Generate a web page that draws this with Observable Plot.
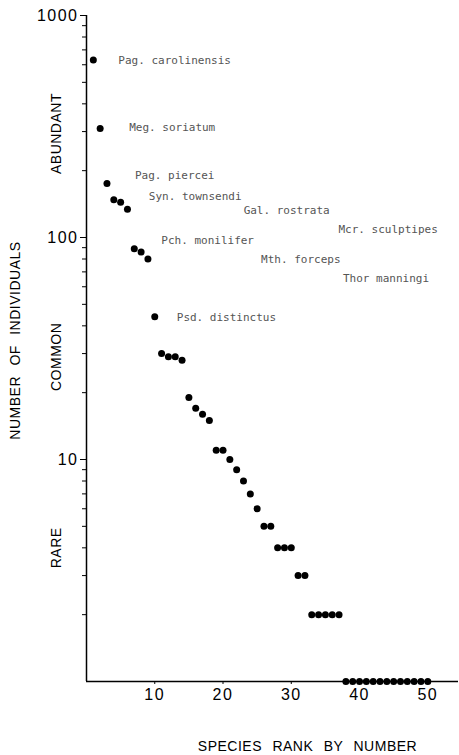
<!DOCTYPE html>
<html><head><meta charset="utf-8">
<script src="https://cdn.jsdelivr.net/npm/d3@7"></script>
<script src="https://cdn.jsdelivr.net/npm/@observablehq/plot@0.6"></script>
<style>
body{margin:0;background:#fff;}
g[aria-label="y-axis tick label"] text, g[aria-label="x-axis tick label"] text {letter-spacing:1.5px}
.cls text {letter-spacing:0.5px; word-spacing:6px}
</style></head><body><div id="chart"></div>
<script>
// Data
const ranks = [1,2,3,4,5,6,7,8,9,10,11,12,13,14,15,16,17,18,19,20,21,22,23,24,25,26,27,28,29,30,31,32,33,34,35,36,37,38,39,40,41,42,43,44,45,46,47,48,49,50];
const counts = [630,310,175,148,144,134,89,86,80,44,30,29,29,28,19,17,16,15,11,11,10,9,8,7,6,5,5,4,4,4,3,3,2,2,2,2,2,1,1,1,1,1,1,1,1,1,1,1,1,1];
const speciesNames = ["Pag. carolinensis","Meg. soriatum","Pag. piercei","Syn. townsendi","Gal. rostrata","Mcr. sculptipes","Pch. monilifer","Mth. forceps","Thor manningi","Psd. distinctus"];
const speciesRanks = [1,2,3,4,5,6,7,8,9,10];
const classNames = ["ABUNDANT","COMMON","RARE"];
const classMid = [294,29,4];
const xTicks = [10,20,30,40,50];
const yMajor = [10,100,1000];
const yMinor = [2,3,4,5,6,7,8,9,20,30,40,50,60,70,80,90,200,300,400,500,600,700,800,900];
const xLabel = "SPECIES RANK BY NUMBER";
const yLabel = "NUMBER OF INDIVIDUALS";

// Layout (label offsets from each species' point, in pixels)
const labelOffsets = [[25,0],[29,-1],[28,-8],[35,-3],[123,8],[211,20],[27,-8],[120,7],[195,19],[22,1]];

const data = ranks.map((r,i) => ({rank: r, count: counts[i]}));

const speciesMarks = speciesNames.map((name, i) => {
  const r = speciesRanks[i];
  return Plot.text([{rank: r, count: counts[r-1], name}], {
    x: "rank", y: "count", text: "name",
    textAnchor: "start", dx: labelOffsets[i][0], dy: labelOffsets[i][1],
    fontFamily: "DejaVu Sans Mono", fontSize: 11, fill: "#555"
  });
});

const chart = Plot.plot({
  width: 459, height: 755,
  marginLeft: 86, marginRight: 1, marginTop: 15, marginBottom: 74,
  style: {fontFamily: "Liberation Sans, Arial, sans-serif", background: "#fff", color: "#000"},
  x: {domain: [0, 54.5]},
  y: {type: "log", domain: [1, 1000]},
  marks: [
    Plot.axisY({ticks: yMinor, tickSize: 4, tickFormat: () => "", label: null}),
    Plot.axisY({ticks: yMajor, tickSize: 6, tickPadding: 2, tickFormat: d3.format("d"), fontSize: 16, label: null}),
    Plot.axisX({ticks: xTicks, tickSize: 3, tickPadding: 4, fontSize: 16, label: null}),
    Plot.ruleX([0], {stroke: "#000", strokeWidth: 1.5}),
    Plot.ruleY([1], {stroke: "#000", strokeWidth: 1.5}),
    Plot.dot(data, {x: "rank", y: "count", r: 3.5, fill: "#000", stroke: "none"}),
    ...speciesMarks,
    Plot.text(classNames, {y: (d,i) => classMid[i], text: d => d, frameAnchor: "left", textAnchor: "middle", rotate: -90, dx: -30, fontSize: 14, className: "cls"}),
    Plot.text([yLabel], {text: d => d, frameAnchor: "left", textAnchor: "middle", rotate: -90, dx: -71, dy: -8, fontSize: 14, className: "cls"}),
    Plot.text([xLabel], {text: d => d, frameAnchor: "bottom", textAnchor: "middle", dx: 35, dy: 69, fontSize: 14, className: "cls"})
  ]
});
document.getElementById("chart").appendChild(chart);
</script></body></html>
